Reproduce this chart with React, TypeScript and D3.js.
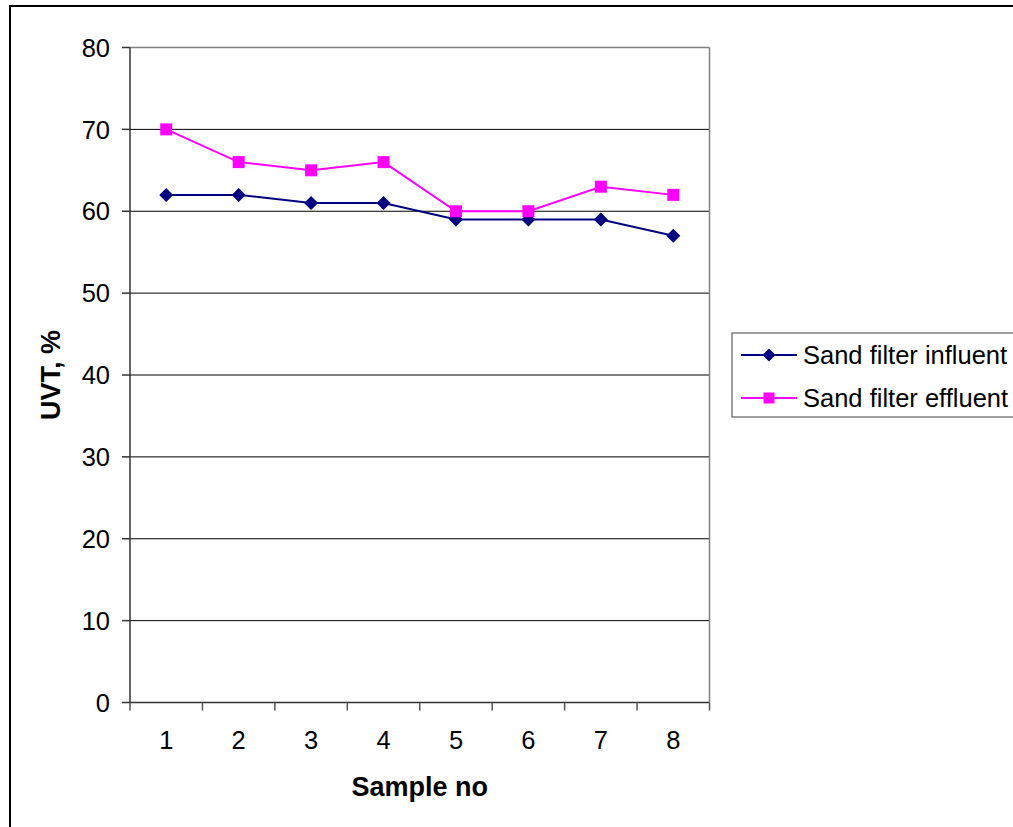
import React from "react";
import * as d3 from "d3";

const categories = ["1", "2", "3", "4", "5", "6", "7", "8"];
const influent = [62, 62, 61, 61, 59, 59, 59, 57];
const effluent = [70, 66, 65, 66, 60, 60, 63, 62];
const yTicks = [0, 10, 20, 30, 40, 50, 60, 70, 80];
const seriesNames = ["Sand filter influent", "Sand filter effluent"];

const W = 1013;
const H = 827;
const plot = { left: 130, right: 709.5, top: 47.5, bottom: 702.5 };
const FONT = "Liberation Sans, Arial, sans-serif";

export default function App() {
  const x = d3
    .scaleBand<string>()
    .domain(categories)
    .range([plot.left, plot.right])
    .padding(0);
  const y = d3.scaleLinear().domain([0, 80]).range([plot.bottom, plot.top]);
  const cx = (c: string) => (x(c) ?? 0) + x.bandwidth() / 2;

  const line = d3
    .line<number>()
    .x((_, i) => cx(categories[i]))
    .y((d) => y(d));

  const diamond = (px: number, py: number, r = 7) =>
    `M${px},${py - r}L${px + r},${py}L${px},${py + r}L${px - r},${py}Z`;

  const navy = "#000080";
  const magenta = "#FF00FF";

  return (
    <svg
      width={W}
      height={H}
      style={{ position: "absolute", left: 0, top: 0, background: "#fff" }}
      fontFamily={FONT}
    >
      <rect x={0} y={0} width={W} height={H} fill="#fff" />
      {/* outer chart border */}
      <rect x={10} y={6} width={W + 20} height={H + 20} fill="none" stroke="#000" strokeWidth={2} />

      {/* gridlines */}
      {yTicks.filter((t) => t > 0 && t < 80).map((t) => (
        <line key={t} x1={plot.left} x2={plot.right} y1={y(t)} y2={y(t)} stroke="#000" strokeWidth={1} />
      ))}
      {/* plot border top & right */}
      <line x1={plot.left} x2={plot.right} y1={y(80)} y2={y(80)} stroke="#808080" strokeWidth={1.5} />
      <line x1={plot.right} x2={plot.right} y1={plot.top} y2={plot.bottom} stroke="#808080" strokeWidth={1.5} />

      {/* y axis */}
      <line x1={plot.left} x2={plot.left} y1={plot.top} y2={plot.bottom} stroke="#333" strokeWidth={1.5} />
      {yTicks.map((t) => (
        <g key={t}>
          <line x1={plot.left - 8} x2={plot.left} y1={y(t)} y2={y(t)} stroke="#333" strokeWidth={1.5} />
          <text x={110} y={y(t)} dy="0.36em" textAnchor="end" fontSize={25.5} fill="#000">
            {t}
          </text>
        </g>
      ))}

      {/* x axis */}
      <line x1={plot.left} x2={plot.right} y1={plot.bottom} y2={plot.bottom} stroke="#333" strokeWidth={1.5} />
      {[...categories.map((c) => x(c) ?? 0), plot.right].map((px, i) => (
        <line key={i} x1={px} x2={px} y1={plot.bottom} y2={plot.bottom + 8} stroke="#555" strokeWidth={1.5} />
      ))}
      {categories.map((c) => (
        <text key={c} x={cx(c)} y={749} textAnchor="middle" fontSize={25.5} fill="#000">
          {c}
        </text>
      ))}

      {/* axis titles */}
      <text x={(plot.left + plot.right) / 2} y={796} textAnchor="middle" fontSize={27} fontWeight="bold" fill="#000">
        Sample no
      </text>
      <text
        transform={`translate(60,${(plot.top + plot.bottom) / 2}) rotate(-90)`}
        textAnchor="middle"
        fontSize={27}
        fontWeight="bold"
        fill="#000"
      >
        UVT, %
      </text>

      {/* series */}
      <path d={line(influent) ?? ""} fill="none" stroke={navy} strokeWidth={2} />
      {influent.map((v, i) => (
        <path key={i} d={diamond(cx(categories[i]), y(v))} fill={navy} />
      ))}
      <path d={line(effluent) ?? ""} fill="none" stroke={magenta} strokeWidth={2} />
      {effluent.map((v, i) => (
        <rect key={i} x={cx(categories[i]) - 6} y={y(v) - 6} width={12} height={12} fill={magenta} />
      ))}

      {/* legend */}
      <rect x={732} y={333} width={300} height={84} fill="#fff" stroke="#808080" strokeWidth={1.5} />
      <line x1={741} x2={797} y1={355} y2={355} stroke={navy} strokeWidth={2} />
      <path d={diamond(769, 355, 6.5)} fill={navy} />
      <text x={803} y={355} dy="0.36em" fontSize={25.5} fill="#000">
        {seriesNames[0]}
      </text>
      <line x1={741} x2={797} y1={398} y2={398} stroke={magenta} strokeWidth={2} />
      <rect x={769 - 5.5} y={398 - 5.5} width={11} height={11} fill={magenta} />
      <text x={803} y={398} dy="0.36em" fontSize={25.5} fill="#000">
        {seriesNames[1]}
      </text>
    </svg>
  );
}
